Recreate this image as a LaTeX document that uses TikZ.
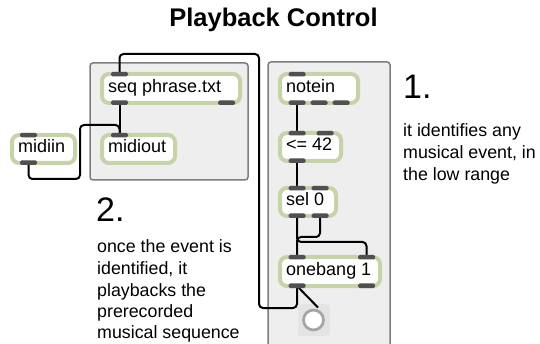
\documentclass[tikz,border=0pt]{standalone}
\usepackage{fontspec}
\setmainfont{Liberation Sans}
\definecolor{panelfill}{RGB}{238,238,238}
\definecolor{panelline}{RGB}{125,125,125}
\definecolor{objgreen}{RGB}{198,210,168}
\definecolor{tabgray}{RGB}{80,80,80}
\definecolor{banggray}{RGB}{165,165,165}
\definecolor{bangbg}{RGB}{228,228,228}
\newcommand{\mxobj}[6]{%
  \path[objbox] (#2+2,#3+2) rectangle (#4-2,#5-2);
  \node[objtext] (#1) at (#2+8,#5-12.5) {#6};}
\newcommand{\tabtop}[2]{\fill[tab] (#1,#2) rectangle ++(17,4.5);}
\newcommand{\tabbot}[2]{\fill[tab] (#1,#2-4.5) rectangle ++(17,4.5);}
\begin{document}
\begin{tikzpicture}[x=1pt,y=-1pt,
  panel/.style={draw=panelline,fill=panelfill,line width=1.5pt,rounded corners=3pt},
  objbox/.style={draw=objgreen,fill=white,line width=4pt,rounded corners=7pt},
  tab/.style={fill=tabgray,rounded corners=1.5pt},
  cable/.style={draw=black,line width=2pt,rounded corners=4pt},
  objtext/.style={font=\fontsize{18}{21}\selectfont,inner sep=0pt,anchor=base west},
  body/.style={font=\fontsize{17.8}{21}\selectfont,inner sep=0pt,anchor=base west},
  num/.style={font=\fontsize{34}{40}\selectfont,inner sep=0pt,anchor=base west},
  title/.style={font=\fontsize{25.5}{30}\selectfont\bfseries,inner sep=0pt,anchor=base}]
\useasboundingbox (0,0) rectangle (540,344);
% panels
\path[panel] (90,63) rectangle (248,180);
\path[panel] (268,62) rectangle (390,360);
% title and texts
\node[title] (ttl) at (273.5,27) {Playback Control};
\node[num] (n1) at (403,99) {1.};
\node[body] (a1) at (403,137) {it identifies any};
\node[body] (a2) at (403,159) {musical event, in};
\node[body] (a3) at (403,181) {the low range};
\node[num] (n2) at (96,222) {2.};
\node[body] (b1) at (97,253) {once the event is};
\node[body] (b2) at (97,274.5) {identified, it};
\node[body] (b3) at (97,296) {playbacks the};
\node[body] (b4) at (97,317) {prerecorded};
\node[body] (b5) at (97,338) {musical sequence};
% connection points
\coordinate (seq-i1) at (119.5,74);
\coordinate (seq-o1) at (119.5,103);
\coordinate (midiin-o1) at (28.5,163);
\coordinate (midiout-i1) at (119.5,135);
\coordinate (notein-o1) at (297,103);
\coordinate (le-i1) at (297,133);
\coordinate (le-o1) at (297,161);
\coordinate (sel-i1) at (297,188);
\coordinate (sel-o1) at (297,216);
\coordinate (sel-o2) at (320,216);
\coordinate (ob-i1) at (297,257);
\coordinate (ob-i2) at (366.5,257);
\coordinate (ob-o1) at (297,286);
\coordinate (bang-in) at (318,307.5);
% bang
\fill[bangbg,rounded corners=3pt] (298,304) rectangle (330,336);
\node[circle,draw=banggray,line width=2.8pt,fill=white,minimum size=20pt,inner sep=0pt] (bang) at (313.5,320) {};
% cables
\draw[cable] (seq-o1) -- (midiout-i1);
\draw[cable] (midiin-o1) |- (80,179) |- (119.5,125) -- (midiout-i1);
\draw[cable] (ob-o1) |- (259,308) |- (119.5,54) -- (seq-i1);
\draw[cable] (notein-o1) -- (le-i1);
\draw[cable] (le-o1) -- (sel-i1);
\draw[cable] (sel-o1) |- (366.5,242) -- (ob-i2);
\draw[cable] (sel-o2) |- (297,237) -- (ob-i1);
\draw[cable] (ob-o1) -- (bang-in);
% objects
\mxobj{seq}{100}{72}{242}{105}{seq phrase.txt}
\tabtop{111}{72}\tabbot{111}{105}\tabbot{218}{105}
\mxobj{midiin}{10}{133}{77}{165}{midiin}
\tabtop{20}{133}\tabbot{20}{165}
\mxobj{midiout}{100}{133}{177}{165}{midiout}
\tabtop{111}{133}
\mxobj{notein}{278}{72}{360}{105}{notein}
\tabtop{288.5}{72}\tabbot{288.5}{105}\tabbot{310.5}{105}\tabbot{332.5}{105}
\mxobj{le}{278}{131}{343}{163}{<= 42}
\tabtop{288.5}{131}\tabtop{316.5}{131}\tabbot{288.5}{163}
\mxobj{sel}{278}{186}{338}{218}{sel 0}
\tabtop{288.5}{186}\tabtop{311.5}{186}\tabbot{288.5}{218}\tabbot{311.5}{218}
\mxobj{ob}{278}{255}{382}{288}{onebang 1}
\tabtop{288.5}{255}\tabtop{358}{255}\tabbot{288.5}{288}\tabbot{358}{288}
\end{tikzpicture}
\end{document}
